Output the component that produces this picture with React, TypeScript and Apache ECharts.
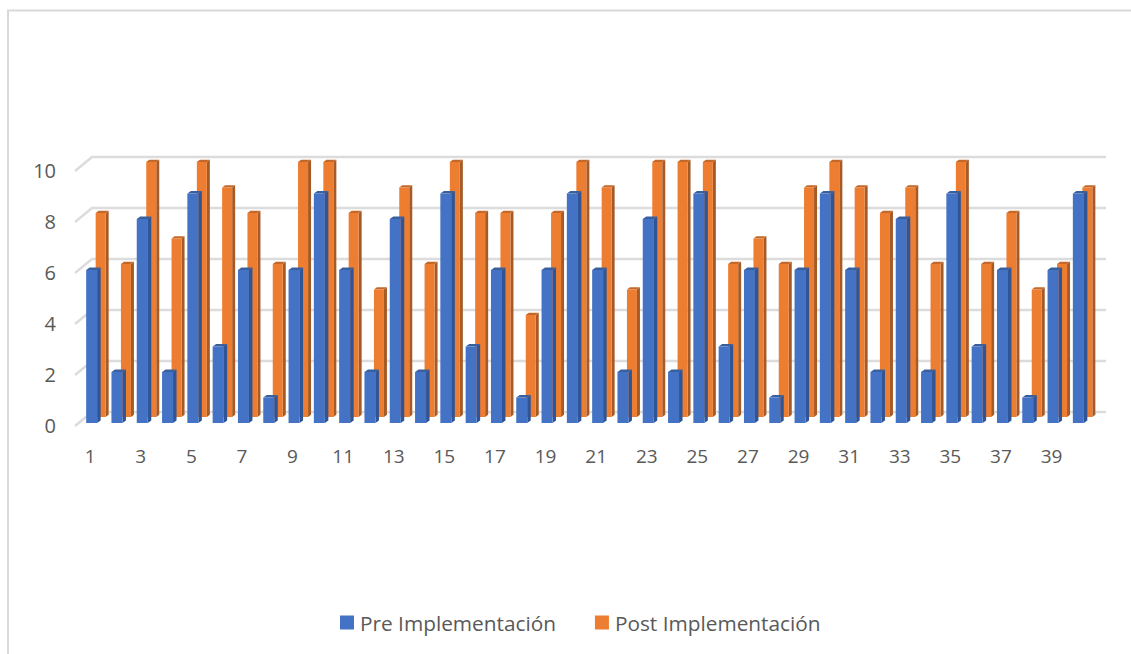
import React, { useEffect, useRef } from "react";
import * as echarts from "echarts";

const categories = Array.from({ length: 40 }, (_, i) => String(i + 1));
const preValues = [6, 2, 8, 2, 9, 3, 6, 1, 6, 9, 6, 2, 8, 2, 9, 3, 6, 1, 6, 9, 6, 2, 8, 2, 9, 3, 6, 1, 6, 9, 6, 2, 8, 2, 9, 3, 6, 1, 6, 9];
const postValues = [8, 6, 10, 7, 10, 9, 8, 6, 10, 10, 8, 5, 9, 6, 10, 8, 8, 4, 8, 10, 9, 5, 10, 10, 10, 6, 7, 6, 9, 10, 9, 8, 9, 6, 10, 6, 8, 5, 6, 9];
const yTicks = [0, 2, 4, 6, 8, 10];

const bar3d = (front: string, side: string, top: string, dx: number, dy: number, w: number, d: number) =>
  (_params: any, api: any) => {
    const cat = api.value(0);
    const [cx, yTop0] = api.coord([cat, api.value(1)]);
    const [, yBase0] = api.coord([cat, 0]);
    const x0 = cx + dx - w / 2;
    const x1 = x0 + w;
    const yTop = yTop0 + dy;
    const yBase = yBase0 + dy;
    return {
      type: "group",
      children: [
        { type: "polygon", shape: { points: [[x1, yTop], [x1 + d, yTop - d * 0.75], [x1 + d, yBase - d * 0.75], [x1, yBase]] }, style: { fill: side } },
        { type: "polygon", shape: { points: [[x0, yTop], [x0 + d, yTop - d * 0.75], [x1 + d, yTop - d * 0.75], [x1, yTop]] }, style: { fill: top } },
        { type: "rect", shape: { x: x0, y: yTop, width: w, height: yBase - yTop }, style: { fill: front } },
      ],
    };
  };

const wallLine = (params: any, api: any) => {
  const [, y] = api.coord([0, api.value(1)]);
  const cs = params.coordSys;
  return {
    type: "polyline",
    shape: { points: [[cs.x - 1, y + 3], [cs.x + 16, y - 11], [cs.x + cs.width + 18, y - 11]] },
    style: { stroke: "#dcdcdc", lineWidth: 2.5, fill: "none" },
  };
};

export default function App() {
  const ref = useRef<HTMLDivElement>(null);
  useEffect(() => {
    const chart = echarts.init(ref.current!, undefined, { renderer: "svg" });
    chart.setOption({
      animation: false,
      backgroundColor: "#ffffff",
      textStyle: { fontFamily: "'Open Sans'" },
      grid: { left: 76, top: 168, width: 1012, height: 255 },
      graphic: [
        { type: "polyline", z: -1, shape: { points: [[8, 654], [8, 10.5], [1131, 10.5]] }, style: { stroke: "#d9d9d9", lineWidth: 2, fill: "none" } },
      ],
      xAxis: {
        type: "category",
        data: categories,
        axisLine: { show: false },
        axisTick: { show: false },
        splitLine: { show: false },
        axisLabel: { interval: 1, color: "#595959", fontSize: 19, margin: 23, padding: [0, 0, 0, 3] },
      },
      yAxis: {
        type: "value",
        min: 0,
        max: 10,
        interval: 2,
        axisLine: { show: false },
        axisTick: { show: false },
        splitLine: { show: false },
        axisLabel: { color: "#595959", fontSize: 20, margin: 20, verticalAlign: "top", lineHeight: 5 },
      },
      legend: {
        data: ["Pre Implementación", "Post Implementación"],
        left: 335,
        top: 607,
        icon: "rect",
        itemWidth: 14,
        itemHeight: 14,
        itemGap: 39,
        selectedMode: false,
        textStyle: { color: "#595959", fontSize: 20.8, padding: [0, 0, 0, 1] },
      },
      series: [
        { type: "custom", name: "Muro", silent: true, z: 1, clip: false, data: yTicks.map((v) => [0, v]), encode: { x: 0, y: 1 }, renderItem: wallLine },
        { type: "custom", name: "Post Implementación", z: 2, clip: false, itemStyle: { color: "#ed7d31" }, data: postValues.map((v, i) => [i, v]), encode: { x: 0, y: 1 }, renderItem: bar3d("#ed7d31", "#a65a26", "#c4682a", 12, -6, 10, 3) },
        { type: "custom", name: "Pre Implementación", z: 3, clip: false, itemStyle: { color: "#4472c4" }, data: preValues.map((v, i) => [i, v]), encode: { x: 0, y: 1 }, renderItem: bar3d("#4472c4", "#2f5597", "#38609f", 3, 0, 11, 3.5) },
      ],
    });
    return () => chart.dispose();
  }, []);
  return <div ref={ref} style={{ position: "absolute", left: 0, top: 0, width: 1131, height: 654 }} />;
}
